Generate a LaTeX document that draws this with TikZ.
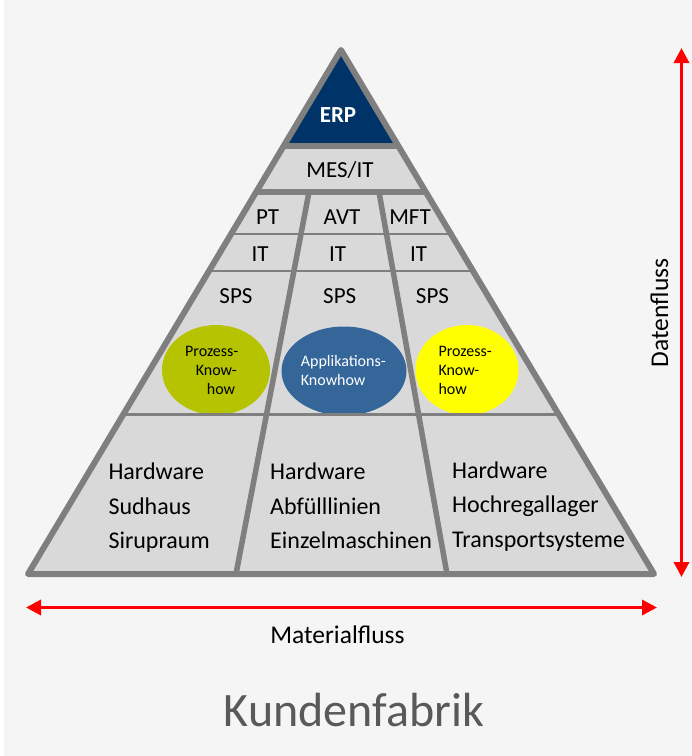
\documentclass[tikz,border=0pt]{standalone}
\usepackage{fontspec}
\setmainfont{Carlito}
\usetikzlibrary{arrows.meta,calc,shapes.geometric}
\definecolor{bgc}{RGB}{245,245,245}
\definecolor{cellfill}{RGB}{217,217,217}
\definecolor{linegray}{RGB}{127,127,127}
\definecolor{erpblue}{RGB}{0,52,104}
\definecolor{kgreen}{RGB}{181,195,0}
\definecolor{kblue}{RGB}{52,102,153}
\definecolor{kyellow}{RGB}{255,255,0}
\definecolor{titlegray}{RGB}{89,89,89}
\begin{document}
\begin{tikzpicture}[x=1pt,y=-1pt,
  outline/.style={draw=linegray,line width=6pt,line join=round,line cap=round},
  thickline/.style={draw=linegray,line width=5.5pt},
  thinline/.style={draw=linegray,line width=2.6pt},
  txt/.style={font=\fontsize{23}{27}\selectfont,inner sep=0pt,anchor=base},
  flowtxt/.style={font=\fontsize{25.5}{30}\selectfont,inner sep=0pt,anchor=base},
  txtl/.style={font=\fontsize{24}{28}\selectfont,inner sep=0pt,anchor=base west},
  smalltxt/.style={font=\fontsize{16}{19}\selectfont,inner sep=0pt,anchor=base west},
  blob/.style={ellipse,inner sep=0pt,draw=none},
  redarrow/.style={draw=red,line width=3.4pt,{Triangle[length=15pt,width=15pt]}-{Triangle[length=15pt,width=15pt]}}
]
\useasboundingbox (0,0) rectangle (692,756);
\fill[bgc] (0,0) rectangle (692,756);
\fill[white] (0,0) rectangle (4,756);

\coordinate (A) at (341,50);
\coordinate (BL) at (28,574);
\coordinate (BR) at (654,574);
\fill[cellfill] (A) -- (BL) -- (BR) -- cycle;
\fill[erpblue] (A) -- ($(A)!0.1832!(BL)$) -- ($(A)!0.1832!(BR)$) -- cycle;

% ellipses
\node[blob,fill=kgreen,minimum width=108pt,minimum height=90pt] (eg) at (216,370) {};
\node[blob,fill=kblue,minimum width=125pt,minimum height=89pt] (eb) at (344,371) {};
\node[blob,fill=kyellow,minimum width=103pt,minimum height=90pt] (ey) at (467,370) {};

\begin{scope}
  \clip (A) -- (BL) -- (BR) -- cycle;
  \draw[thinline] (0,234) -- (692,234);
  \draw[thinline] (0,271) -- (692,271);
  \draw[thinline] (0,414.5) -- (692,414.5);
  \draw[thickline] (0,146) -- (692,146);
  \draw[thickline] (0,192) -- (692,192);
  \coordinate (d1t) at (309,192);
  \coordinate (d1b) at (236,574);
  \coordinate (d2t) at (379,192);
  \coordinate (d2b) at (447,574);
  \draw[thickline] (d1t) -- (d1b);
  \draw[thickline] (d2t) -- (d2b);
\end{scope}
\draw[outline] (A) -- (BL) -- (BR) -- cycle;

% texts
\node[txt,text=white,font=\fontsize{23}{27}\selectfont\bfseries] (erp) at (338,122.7) {ERP};
\node[txt] (mes) at (340,177.3) {MES/IT};
\node[txt] (pt) at (267.5,224) {PT};
\node[txt] (avt) at (342,224) {AVT};
\node[txt] (mft) at (410,224) {MFT};
\node[txt] (it1) at (260,261.7) {IT};
\node[txt] (it2) at (337.5,261.7) {IT};
\node[txt] (it3) at (418.7,261.7) {IT};
\node[txt] (sps1) at (236,303.3) {SPS};
\node[txt] (sps2) at (339.7,303.3) {SPS};
\node[txt] (sps3) at (432.5,303.3) {SPS};

\node[smalltxt] (g1) at (185,356.7) {Prozess-};
\node[smalltxt] (g2) at (195.7,375.7) {Know-};
\node[smalltxt] (g3) at (206.7,394) {how};
\node[smalltxt,text=white] (b1) at (300.7,366.7) {Applikations-};
\node[smalltxt,text=white] (b2) at (300.7,385) {Knowhow};
\node[smalltxt] (y1) at (438.3,356.7) {Prozess-};
\node[smalltxt] (y2) at (438.3,375.7) {Know-};
\node[smalltxt] (y3) at (438.3,394) {how};

\node[txtl] (h1a) at (108.3,479.3) {Hardware};
\node[txtl] (h1b) at (108.3,514) {Sudhaus};
\node[txtl] (h1c) at (108.3,548.3) {Sirupraum};
\node[txtl] (h2a) at (270,479.3) {Hardware};
\node[txtl] (h2b) at (270,514) {Abfülllinien};
\node[txtl] (h2c) at (270,548.3) {Einzelmaschinen};
\node[txtl] (h3a) at (452,478) {Hardware};
\node[txtl] (h3b) at (452,512.5) {Hochregallager};
\node[txtl] (h3c) at (452,547) {Transportsysteme};

% arrows
\coordinate (dT) at (681.5,48);
\coordinate (dB) at (681.5,577);
\draw[redarrow] (dT) -- (dB);
\node[flowtxt,rotate=90] (daten) at (668,313) {Datenfluss};

\coordinate (mL) at (26,607.5);
\coordinate (mR) at (657,607.5);
\draw[redarrow] (mL) -- (mR);
\node[flowtxt] (mat) at (337.5,643) {Materialfluss};

\node[txt,text=titlegray,font=\fontsize{48}{54}\selectfont] (kf) at (354,726.7) {Kundenfabrik};
\end{tikzpicture}
\end{document}
